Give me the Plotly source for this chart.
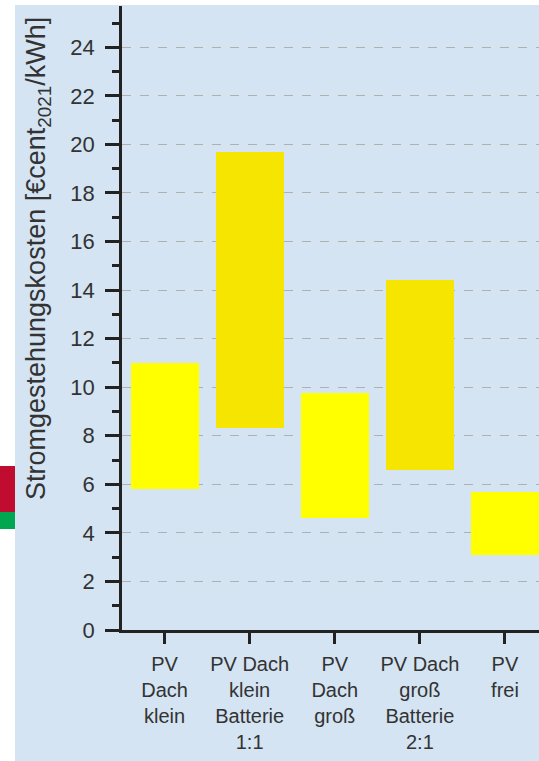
import plotly.graph_objects as go

categories = ["PV<br>Dach<br>klein", "PV Dach<br>klein<br>Batterie<br>1:1", "PV<br>Dach<br>groß",
              "PV Dach<br>groß<br>Batterie<br>2:1", "PV<br>frei"]
low = [5.8, 8.3, 4.6, 6.6, 3.1]
high = [11.0, 19.7, 9.75, 14.4, 5.7]
colors = ["#FFFF00", "#F6E500", "#FFFF00", "#F6E500", "#FFFF00"]
y_ticks = list(range(0, 25, 2))
y_title = "Stromgestehungskosten [€cent<sub>2021</sub>/kWh]"

W, H = 539, 761
ML, MR, MT, MB = 122, 0, 6, 131

fig = go.Figure()
fig.add_trace(go.Bar(
    x=list(range(len(categories))),
    y=[h - l for h, l in zip(high, low)],
    base=low,
    marker=dict(color=colors, line=dict(width=0)),
    width=0.8,
    hoverinfo="skip",
))

font = "Liberation Sans, Arial, sans-serif"
fig.update_layout(
    width=W, height=H,
    margin=dict(l=ML, r=MR, t=MT, b=MB),
    paper_bgcolor="white",
    plot_bgcolor="rgba(0,0,0,0)",
    showlegend=False,
    font=dict(family=font, size=20, color="#333333"),
    bargap=0,
)
fig.update_xaxes(
    range=[-0.5, 4.4],
    tickvals=list(range(len(categories))),
    ticktext=categories,
    ticks="outside", ticklen=11, tickwidth=2.5, tickcolor="#222222",
    showline=True, linecolor="#222222", linewidth=2.5,
    showgrid=False, zeroline=False,
    tickfont=dict(size=20, color="#333333"),
    ticklabelstandoff=3,
)
fig.update_yaxes(
    range=[0, 25.7],
    tickvals=y_ticks,
    ticks="outside", ticklen=14, tickwidth=2.5, tickcolor="#222222",
    minor=dict(tickvals=list(range(1, 26, 2)), ticks="outside", ticklen=7, tickwidth=2.5,
               tickcolor="#222222", showgrid=False),
    showline=True, linecolor="#222222", linewidth=2.5,
    showgrid=True, gridcolor="#B0B0B0", griddash="dash", gridwidth=1,
    zeroline=False,
    tickfont=dict(size=22, color="#333333"),
    ticklabelstandoff=6,
)

pw = W - ML - MR
ph = H - MT - MB
def px(pix):
    return (pix - ML) / pw
def py(pix):
    return (H - MB - pix) / ph

fig.add_annotation(text=y_title, xref="paper", yref="paper", x=px(38), y=py(259),
                   textangle=-90, showarrow=False, xanchor="center", yanchor="middle",
                   font=dict(size=27, color="#333333", family=font))

# background panel and side marks (paper coordinates)
fig.add_shape(type="rect", xref="paper", yref="paper", layer="below",
              x0=px(15), x1=1, y0=py(H), y1=py(5),
              fillcolor="#D4E4F2", line=dict(width=0))
fig.add_shape(type="rect", xref="paper", yref="paper", layer="above",
              x0=px(0), x1=px(15), y0=py(512), y1=py(466),
              fillcolor="#C00D2F", line=dict(width=0))
fig.add_shape(type="rect", xref="paper", yref="paper", layer="above",
              x0=px(0), x1=px(15), y0=py(529), y1=py(512),
              fillcolor="#00A650", line=dict(width=0))

fig.write_html("out.html", config={"displayModeBar": False},
               post_script="document.body.style.margin='0';document.body.style.overflow='hidden';")
